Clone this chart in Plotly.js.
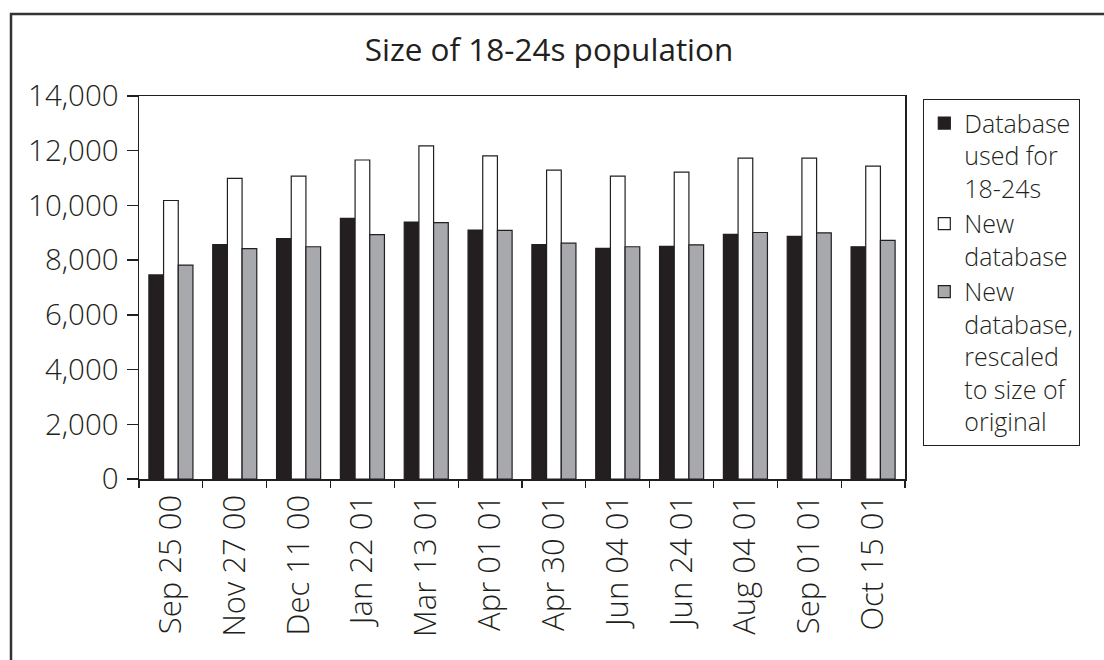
<!DOCTYPE html>
<html>
<head>
<meta charset="utf-8">
<script src="https://cdn.plot.ly/plotly-3.0.1.min.js"></script>
<style>html,body{margin:0;padding:0;background:#fff;}#chart{width:1104px;height:660px;}</style>
</head>
<body>
<div id="chart"></div>
<script>
const categories = ["Sep 25 00","Nov 27 00","Dec 11 00","Jan 22 01","Mar 13 01","Apr 01 01","Apr 30 01","Jun 04 01","Jun 24 01","Aug 04 01","Sep 01 01","Oct 15 01"];
const databaseUsed = [7460, 8570, 8790, 9530, 9390, 9100, 8570, 8430, 8500, 8940, 8870, 8490];
const newDatabase = [10180, 10990, 11070, 11660, 12180, 11810, 11290, 11070, 11220, 11730, 11730, 11440];
const newRescaled = [7820, 8420, 8490, 8930, 9370, 9090, 8620, 8490, 8560, 9010, 9000, 8720];
const seriesNames = ["Database<br>used for<br>18-24s", "New<br>database", "New<br>database,<br>rescaled<br>to size of<br>original"];
const yTicks = [0, 2000, 4000, 6000, 8000, 10000, 12000, 14000];

const ink = '#231f20';
const fontFam = '"Open Sans", "Noto Sans", sans-serif';
const colors = [ink, '#ffffff', '#a7a9ac'];
const data = [databaseUsed, newDatabase, newRescaled].map((vals, i) => ({
  type: 'bar', x: categories, y: vals, name: seriesNames[i],
  marker: {color: colors[i], line: {color: ink, width: 1.2}}
}));

const L = 139, R = 905, T = 96, B = 479;
const layout = {
  width: 1104, height: 660,
  margin: {l: L, r: 1104 - R, t: T, b: 660 - B},
  paper_bgcolor: '#fff', plot_bgcolor: '#fff',
  font: {family: fontFam, color: ink, size: 27, weight: 300},
  title: {text: 'Size of 18-24s population', x: 549/1104, xref: 'container', xanchor: 'center',
          y: 1 - 50/660, yref: 'container', yanchor: 'middle', font: {size: 31.5, color: ink, family: fontFam, weight: 400}},
  barmode: 'group', bargap: 0.31, bargroupgap: 0,
  xaxis: {type: 'category', showline: true, linecolor: ink, linewidth: 1.5, mirror: true,
          ticks: 'outside', tickson: 'boundaries', ticklen: 7, tickcolor: ink, tickwidth: 1.3,
          tickangle: -90, ticklabelstandoff: 2, showgrid: false, zeroline: false,
          tickfont: {size: 31, family: fontFam, color: ink, weight: 300}},
  yaxis: {range: [0, 14000], tickvals: yTicks, tickformat: ',d', showline: true, linecolor: ink,
          linewidth: 1.5, mirror: true, ticks: 'outside', ticklen: 11, tickcolor: ink, tickwidth: 1.3,
          showgrid: false, zeroline: false, ticklabelstandoff: 2,
          tickfont: {size: 29.5, family: fontFam, color: ink, weight: 300}},
  showlegend: true,
  legend: {x: (923 - L)/(R - L), xanchor: 'left', y: (B - 99)/(B - T), yanchor: 'top',
           bordercolor: ink, borderwidth: 1.3, bgcolor: '#fff', valign: 'top',
           font: {size: 25, family: fontFam, color: ink, weight: 300}, itemwidth: 30, tracegroupgap: 0,
           traceorder: 'normal'},
  shapes: [{type: 'rect', xref: 'paper', yref: 'paper',
            x0: (11 - L)/(R - L), x1: (1140 - L)/(R - L), y0: (B - 700)/(B - T), y1: (B - 14)/(B - T),
            line: {color: '#333', width: 2.5}, fillcolor: 'rgba(0,0,0,0)', layer: 'below'}]
};

Plotly.newPlot('chart', data, layout, {displayModeBar: false, staticPlot: true});
</script>
</body>
</html>
